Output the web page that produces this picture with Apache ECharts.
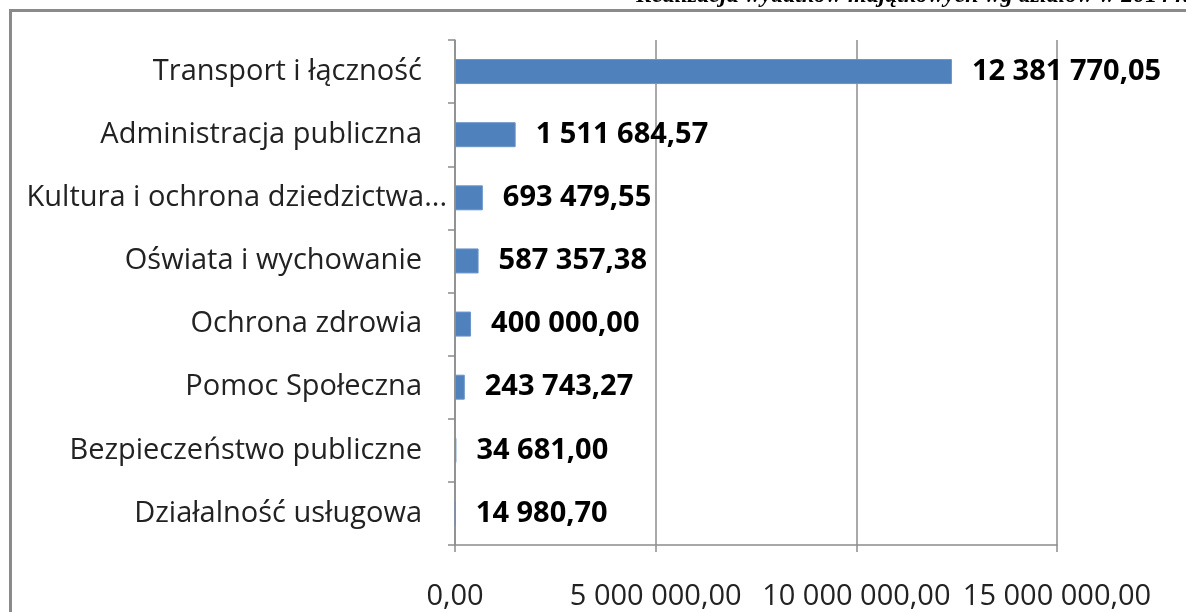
<!DOCTYPE html>
<html>
<head>
<meta charset="utf-8">
<script src="https://cdn.jsdelivr.net/npm/echarts@6/dist/echarts.min.js"></script>
<style>
html,body{margin:0;padding:0;background:#fff;}
#chart{width:1186px;height:612px;}
</style>
</head>
<body>
<div id="chart"></div>
<script>
const titleText = 'Realizacja wydatków majątkowych wg działów w 2014 r.';
const categories = [
  'Działalność usługowa',
  'Bezpieczeństwo publiczne',
  'Pomoc Społeczna',
  'Ochrona zdrowia',
  'Oświata i wychowanie',
  'Kultura i ochrona dziedzictwa...',
  'Administracja publiczna',
  'Transport i łączność'
];
const values = [14980.70, 34681.00, 243743.27, 400000.00, 587357.38, 693479.55, 1511684.57, 12381770.05];
const xTicks = [0, 5000000, 10000000, 15000000];

function fmtPL(v) {
  const parts = Number(v).toFixed(2).split('.');
  parts[0] = parts[0].replace(/\B(?=(\d{3})+(?!\d))/g, ' ');
  return parts[0] + ',' + parts[1];
}

const chart = echarts.init(document.getElementById('chart'));
const gridColor = '#8c8c8c';
chart.setOption({
  backgroundColor: '#ffffff',
  animation: false,
  graphic: [
    {
      type: 'rect', silent: true, z: 0,
      shape: { x: 10.5, y: 10.5, width: 1300, height: 800 },
      style: { fill: null, stroke: '#8a8a8a', lineWidth: 3 }
    },
    {
      type: 'text', silent: true,
      x: 636, y: -4,
      style: {
        text: titleText,
        font: 'italic bold 24px "Liberation Serif", "DejaVu Serif", serif',
        fill: '#000',
        textAlign: 'left',
        textVerticalAlign: 'middle'
      }
    }
  ],
  grid: { left: 455, right: 129, top: 40, bottom: 67, containLabel: false, outerBoundsMode: 'none' },
  xAxis: {
    type: 'value',
    min: xTicks[0],
    max: xTicks[xTicks.length - 1],
    interval: xTicks[1] - xTicks[0],
    axisLine: { show: true, lineStyle: { color: gridColor, width: 1.5 } },
    axisTick: { show: true, length: 7, lineStyle: { color: gridColor, width: 1.5 } },
    splitLine: { show: true, lineStyle: { color: gridColor, width: 1.5 } },
    axisLabel: {
      margin: 37,
      color: '#222',
      fontFamily: '"Open Sans", sans-serif',
      fontSize: 29,
      formatter: fmtPL
    }
  },
  yAxis: {
    type: 'category',
    data: categories.map(c => c === 'Kultura i ochrona dziedzictwa...'
      ? { value: c, textStyle: { padding: [0, -25, 0, 0] } } : c),
    axisLine: { show: true, lineStyle: { color: gridColor, width: 1.5 } },
    axisTick: { show: true, length: 7, lineStyle: { color: gridColor, width: 1.5 } },
    splitLine: { show: false },
    axisLabel: {
      margin: 33,
      color: '#222',
      fontFamily: '"Open Sans", sans-serif',
      fontSize: 29
    }
  },
  series: [{
    type: 'bar',
    data: values,
    barWidth: 25,
    itemStyle: { color: '#4f81bd', borderColor: '#6a94c8', borderWidth: 1 },
    label: {
      show: true,
      position: 'right',
      distance: 20,
      color: '#000',
      fontFamily: '"Open Sans", sans-serif',
      fontWeight: 'bold',
      fontSize: 29,
      formatter: p => fmtPL(p.value)
    }
  }]
});
</script>
</body>
</html>
